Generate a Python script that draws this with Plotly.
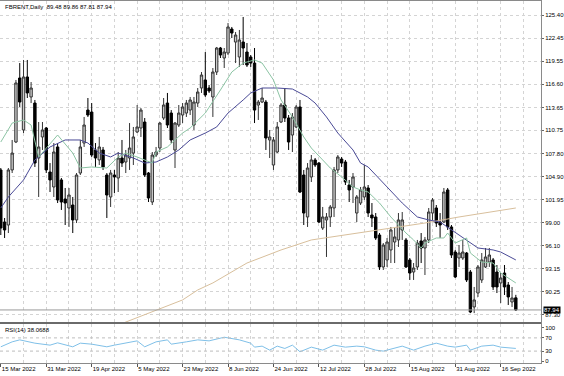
import plotly.graph_objects as go

# ---------------- data ----------------
opens = [105.72, 99.11, 98.73, 105.72, 109.27, 117.40, 110.80, 117.53, 114.99, 114.22,
         107.24, 109.91, 111.05, 105.46, 103.56, 108.64, 104.45, 102.03, 100.89, 101.27,
         99.37, 105.33, 109.14, 113.33, 113.08, 108.26, 106.99, 108.26, 105.08, 102.29,
         105.08, 104.70, 107.24, 106.73, 107.24, 107.87, 110.54, 111.05, 111.81, 105.33,
         101.65, 107.62, 108.51, 112.32, 114.22, 112.95, 108.26, 111.43, 112.70, 112.95,
         113.33, 111.43, 114.22, 116.13, 117.15, 116.13, 114.99, 118.16, 121.21, 119.94,
         120.57, 123.62, 121.97, 120.07, 121.97, 120.70, 120.07, 119.30, 113.97, 114.35,
         114.35, 109.53, 106.35, 108.00, 111.81, 113.97, 112.32, 110.16, 111.18, 113.72,
         105.08, 99.75, 104.83, 106.99, 106.60, 98.35, 99.37, 99.75, 100.89, 105.72,
         107.11, 106.73, 103.81, 103.56, 100.25, 101.52, 102.29, 103.43, 100.00, 99.75,
         97.46, 93.40, 94.29, 95.56, 96.57, 96.83, 98.10, 96.83, 94.29, 92.76,
         93.40, 96.70, 95.81, 96.83, 100.25, 100.89, 99.11, 99.11, 103.18, 98.48,
         95.30, 94.54, 94.54, 95.17, 92.76, 88.32, 90.09, 91.75, 93.40, 94.03,
         94.29, 92.76, 91.37, 92.63, 91.11, 88.95, 89.48]
highs = [105.97, 99.62, 105.97, 109.53, 117.15, 119.30, 119.69, 119.69, 116.89, 114.61,
         111.81, 111.81, 111.18, 106.60, 109.14, 109.14, 104.70, 103.43, 103.43, 102.29,
         105.33, 109.53, 112.45, 114.86, 114.22, 109.14, 109.91, 108.64, 105.33, 105.72,
         105.72, 108.00, 109.53, 108.26, 111.68, 111.18, 113.97, 113.59, 112.32, 105.46,
         108.00, 108.64, 111.81, 114.86, 115.50, 113.33, 111.81, 113.97, 114.22, 114.61,
         114.99, 114.99, 116.13, 118.16, 120.70, 116.51, 118.67, 121.34, 121.34, 121.21,
         124.38, 123.88, 123.24, 123.50, 125.15, 121.84, 120.32, 121.21, 114.61, 116.13,
         114.61, 110.80, 109.91, 111.81, 114.22, 116.13, 112.70, 112.95, 113.97, 114.61,
         105.72, 106.60, 107.62, 107.24, 106.73, 101.02, 100.25, 101.27, 106.10, 107.62,
         107.37, 106.99, 104.45, 105.33, 102.54, 103.56, 106.35, 103.81, 101.52, 100.25,
         97.71, 96.44, 97.08, 98.48, 98.35, 100.25, 100.38, 97.08, 94.54, 93.90,
         96.83, 97.71, 97.21, 100.89, 102.16, 101.27, 100.25, 103.43, 103.43, 98.73,
         95.56, 96.19, 96.83, 95.30, 93.02, 90.86, 93.65, 95.17, 95.81, 95.81,
         94.54, 93.65, 92.63, 93.65, 91.49, 90.86, 89.86]
lows = [97.46, 97.08, 97.71, 105.33, 109.14, 113.72, 110.41, 114.86, 114.22, 106.10,
        102.29, 108.26, 105.33, 102.92, 102.29, 101.52, 100.64, 98.73, 98.48, 97.71,
        98.98, 105.08, 108.64, 112.45, 107.37, 106.10, 106.35, 105.72, 99.62, 101.02,
        102.79, 102.92, 106.10, 105.33, 105.72, 106.35, 110.41, 109.91, 104.83, 101.65,
        101.27, 107.37, 108.00, 112.07, 111.05, 109.14, 105.97, 111.18, 111.68, 112.45,
        112.70, 110.80, 113.72, 115.50, 114.99, 115.50, 112.45, 117.78, 119.94, 118.67,
        120.32, 122.48, 119.30, 118.80, 119.05, 118.80, 118.80, 111.68, 112.07, 114.22,
        108.26, 107.24, 105.72, 107.87, 111.68, 111.81, 108.26, 108.00, 111.05, 102.79,
        98.73, 98.48, 104.19, 106.10, 98.98, 98.10, 94.67, 98.48, 99.75, 105.33,
        106.10, 103.81, 101.65, 101.52, 99.11, 101.27, 101.91, 99.75, 98.48, 96.83,
        93.02, 93.02, 93.40, 93.90, 93.90, 95.94, 96.83, 93.27, 91.75, 91.75,
        93.02, 93.90, 92.38, 96.44, 99.37, 98.48, 97.08, 98.98, 98.10, 94.54,
        92.00, 93.40, 94.29, 91.49, 87.54, 87.54, 89.59, 91.37, 93.27, 93.40,
        90.48, 90.09, 88.82, 89.84, 88.57, 88.32, 87.81]
closes = [98.35, 98.10, 105.72, 107.87, 116.77, 114.35, 117.53, 115.50, 116.13, 106.60,
          108.64, 110.80, 105.72, 104.45, 108.00, 101.91, 101.65, 101.52, 102.54, 99.37,
          105.08, 108.64, 111.43, 112.70, 107.62, 107.24, 108.64, 106.10, 102.54, 105.33,
          104.83, 107.24, 106.60, 107.62, 108.51, 109.91, 111.18, 113.33, 105.08, 102.16,
          107.62, 108.00, 111.68, 113.97, 111.43, 109.53, 111.68, 112.95, 113.72, 114.22,
          114.61, 114.35, 115.62, 117.78, 115.24, 115.75, 118.16, 121.21, 120.32, 120.70,
          123.88, 123.11, 122.86, 122.23, 121.21, 119.05, 119.30, 113.33, 114.35, 114.86,
          109.78, 109.91, 109.53, 111.18, 113.97, 112.32, 109.27, 112.45, 113.72, 102.92,
          100.25, 105.97, 106.99, 106.35, 99.11, 99.75, 99.75, 101.02, 105.72, 107.37,
          106.60, 104.19, 103.18, 104.83, 102.29, 103.18, 103.56, 100.25, 99.62, 97.08,
          93.40, 96.19, 96.57, 98.10, 97.21, 99.37, 99.37, 93.40, 92.63, 93.27,
          96.44, 95.81, 96.83, 100.38, 101.91, 98.98, 98.73, 102.92, 98.48, 94.92,
          92.13, 95.17, 95.30, 91.75, 87.68, 89.21, 93.40, 94.29, 94.67, 94.92,
          90.86, 90.86, 92.00, 90.86, 89.59, 89.46, 87.94]

# moving averages (bar index, value)
ma_fast_idx = [0, 3, 6, 8, 10, 15, 19, 21, 24, 28, 31, 33, 36, 40, 41, 44, 46, 48, 50, 54, 58, 61, 64, 67,
               69, 72, 74, 77, 80, 82, 85, 87, 90, 93, 95, 97, 100, 103, 107, 109, 111, 112, 115, 117,
               118, 120, 123, 124, 127, 130, 132, 136]
ma_fast_val = [109.27, 111.68, 112.07, 111.43, 107.37, 110.16, 107.87, 105.97, 106.10, 105.97, 107.37,
               107.87, 107.37, 106.60, 108.00, 108.64, 109.53, 110.41, 111.05, 112.95, 115.88, 118.16,
               119.30, 119.69, 119.30, 117.15, 114.61, 112.45, 109.91, 108.51, 106.99, 105.97, 104.83,
               103.56, 103.18, 102.92, 101.52, 99.75, 97.71, 96.83, 95.81, 96.44, 97.08, 97.08, 97.71,
               96.44, 97.08, 95.17, 94.03, 93.90, 92.63, 91.37]
ma_mid_idx = [0, 2, 6, 9, 13, 17, 21, 23, 26, 29, 31, 35, 38, 41, 44, 46, 47, 50, 54, 57, 60, 64, 66,
              69, 73, 77, 81, 83, 86, 89, 93, 95, 97, 102, 106, 110, 113, 116, 119, 123, 126, 130,
              132, 136]
ma_mid_val = [100.89, 102.29, 104.45, 106.99, 108.64, 109.53, 109.53, 109.14, 107.87, 107.37, 107.87,
              107.24, 106.60, 106.73, 107.37, 108.00, 108.26, 109.53, 110.41, 111.18, 112.95, 114.61,
              115.50, 116.13, 116.13, 116.00, 114.99, 114.22, 112.45, 110.41, 108.26, 106.60, 106.10,
              103.56, 101.52, 99.75, 99.37, 99.11, 98.10, 96.83, 95.81, 95.56, 95.30, 94.29]
ma_slow_idx = [31, 39, 48, 52, 56, 65, 74, 82, 91, 95, 103, 112, 121, 130, 136]
ma_slow_val = [86.03, 87.50, 89.21, 90.48, 91.37, 93.90, 95.56, 96.83, 97.46, 97.71, 98.35, 98.98,
               99.75, 100.38, 100.89]

rsi_idx = [0, 3, 5, 7, 9, 13, 15, 19, 21, 24, 28, 30, 33, 36, 38, 41, 44, 45, 49, 52, 55, 59, 63, 66,
           67, 69, 71, 73, 75, 77, 79, 82, 85, 88, 91, 94, 96, 99, 101, 104, 106, 109, 112, 115,
           118, 120, 123, 124, 127, 130, 132, 136]
rsi_val = [43, 58, 64, 58, 54, 48, 55, 43, 54, 51, 43, 48, 54, 61, 43, 58, 64, 51, 58, 64, 61, 72, 64,
           54, 42, 45, 33, 45, 38, 48, 28, 42, 33, 48, 42, 45, 43, 33, 30, 38, 45, 33, 45, 54, 45, 42,
           48, 33, 45, 48, 42, 38.07]
rsi_levels = [30, 70]

date_tick_idx = [0, 12, 24, 36, 48, 60, 72, 84, 96, 108, 120, 132]
date_tick_text = ["15 Mar 2022", "31 Mar 2022", "19 Apr 2022", "5 May 2022", "23 May 2022",
                  "8 Jun 2022", "24 Jun 2022", "12 Jul 2022", "28 Jul 2022", "15 Aug 2022",
                  "31 Aug 2022", "16 Sep 2022"]
price_ticks = [87.30, 90.25, 93.15, 96.10, 99.00, 101.95, 104.90, 107.80, 110.75, 113.65, 116.60,
               119.55, 122.45, 125.40]
symbol = "FBRENT,Daily"
rsi_label = "RSI(14) 38.0688"

# ---------------- figure ----------------
W, H = 564, 376
FONT = "Liberation Sans"
bars = list(range(len(opens)))
px_per_bar = 3.787
x0 = -0.8 / px_per_bar
x1 = x0 + 541 / px_per_bar
xdom = [0, 541 / W]
ydom_main = [(H - 322) / H, (H - 1) / H]
ydom_rsi = [(H - 363) / H, (H - 324) / H]
grid_idx = list(range(0, 145, 6))

fig = go.Figure()
fig.add_trace(go.Candlestick(
    x=bars, open=opens, high=highs, low=lows, close=closes,
    increasing=dict(fillcolor="#cccccc", line=dict(color="#333333", width=1)),
    decreasing=dict(fillcolor="#000000", line=dict(color="#000000", width=1)),
    whiskerwidth=0, hoverinfo="skip", showlegend=False, xaxis="x", yaxis="y"))
fig.add_trace(go.Scatter(x=ma_slow_idx, y=ma_slow_val, mode="lines",
                         line=dict(color="#d8bf9c", width=1), showlegend=False,
                         hoverinfo="skip", xaxis="x", yaxis="y"))
fig.add_trace(go.Scatter(x=ma_mid_idx, y=ma_mid_val, mode="lines",
                         line=dict(color="#4a4a96", width=1), showlegend=False,
                         hoverinfo="skip", xaxis="x", yaxis="y"))
fig.add_trace(go.Scatter(x=ma_fast_idx, y=ma_fast_val, mode="lines",
                         line=dict(color="#8cc4a4", width=1), showlegend=False,
                         hoverinfo="skip", xaxis="x", yaxis="y"))
fig.add_trace(go.Scatter(x=rsi_idx, y=rsi_val, mode="lines",
                         line=dict(color="#7fc0e8", width=1), showlegend=False,
                         hoverinfo="skip", xaxis="x2", yaxis="y2"))

axis_common = dict(showline=True, mirror=True, linecolor="#8a8a8a", linewidth=1,
                   zeroline=False, fixedrange=True)
fig.update_layout(
    width=W, height=H, margin=dict(l=0, r=0, t=0, b=0),
    paper_bgcolor="white", plot_bgcolor="white", boxgap=0.1,
    font=dict(family=FONT, size=6, color="#000000"),
    xaxis=dict(domain=xdom, anchor="y", range=[x0, x1], tickvals=grid_idx,
               showticklabels=False, ticks="", showgrid=True, gridcolor="#d4d4d4",
               griddash="dot", gridwidth=1, rangeslider=dict(visible=False), **axis_common),
    yaxis=dict(domain=ydom_main, anchor="x", side="right", range=[86.41, 127.18],
               tickvals=price_ticks, ticktext=[f"{v:.2f}" for v in price_ticks],
               ticks="outside", ticklen=2, tickcolor="#666666",
               tickfont=dict(family=FONT, size=6, color="#000000"),
               showgrid=True, gridcolor="#d4d4d4", griddash="dot", gridwidth=1, **axis_common),
    xaxis2=dict(domain=xdom, anchor="y2", range=[x0, x1], tickvals=date_tick_idx,
                ticktext=date_tick_text, ticks="outside", ticklen=3, tickcolor="#555555",
                ticklabelposition="outside right",
                tickfont=dict(family=FONT, size=6, color="#000000"),
                showgrid=True, gridcolor="#d4d4d4", griddash="dot",
                minor=dict(tickvals=grid_idx, showgrid=True, gridcolor="#d4d4d4",
                           griddash="dot", ticks=""), **axis_common),
    yaxis2=dict(domain=ydom_rsi, anchor="x2", side="right", range=[-6, 112],
                tickvals=[0, 30, 70, 100], ticks="outside", ticklen=2, tickcolor="#666666",
                tickfont=dict(family=FONT, size=6, color="#000000"),
                showgrid=False, **axis_common),
)

# panel separator
fig.add_shape(type="rect", xref="paper", yref="paper", x0=0, x1=xdom[1],
              y0=ydom_rsi[1], y1=ydom_main[0], fillcolor="#6a6a6a", line=dict(width=0))
# bid line at last close
fig.add_shape(type="line", xref="x", yref="y", x0=x0, x1=x1, y0=closes[-1], y1=closes[-1],
              line=dict(color="#9a9a9a", width=1))
# RSI levels
for lv in rsi_levels:
    fig.add_shape(type="line", xref="x2", yref="y2", x0=x0, x1=x1, y0=lv, y1=lv,
                  line=dict(color="#bdbdbd", width=1, dash="dot"))

# header text
fig.add_annotation(xref="paper", yref="paper", x=3 / W, y=(H - 2) / H, xanchor="left",
                   yanchor="top", showarrow=False,
                   text=f"{symbol}  {opens[-1]:.2f} {highs[-1]:.2f} {lows[-1]:.2f} {closes[-1]:.2f}",
                   font=dict(family=FONT, size=6, color="#000000"))
fig.add_annotation(xref="paper", yref="paper", x=3 / W, y=(H - 325) / H, xanchor="left",
                   yanchor="top", showarrow=False, text=rsi_label,
                   font=dict(family=FONT, size=6, color="#000000"))
# last price tag
fig.add_annotation(xref="paper", yref="y", x=(xdom[1] * W + 2) / W, y=closes[-1],
                   xanchor="left", yanchor="middle", showarrow=False,
                   text=f"{closes[-1]:.2f}", bgcolor="#000000", borderpad=0,
                   font=dict(family=FONT, size=6, color="#ffffff"))

fig.write_html("out.html", config={"displayModeBar": False},
               post_script="document.body.style.margin='0';document.body.style.overflow='hidden';")
